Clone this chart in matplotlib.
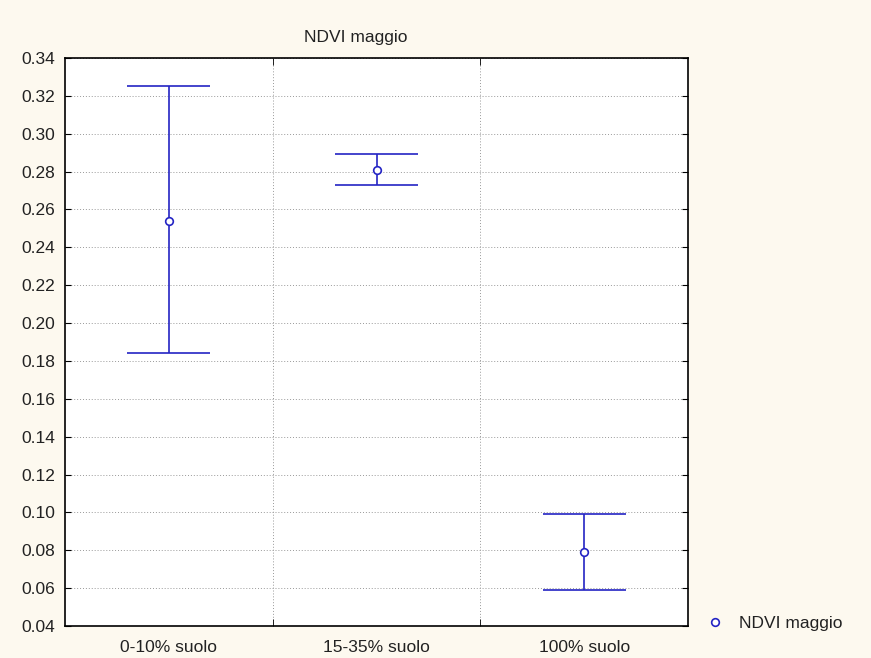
import numpy as np
import matplotlib.pyplot as plt

categories = ["0-10% suolo", "15-35% suolo", "100% suolo"]
means = [0.254, 0.281, 0.079]
upper = [0.325, 0.289, 0.099]
lower = [0.184, 0.273, 0.059]
series_name = "NDVI maggio"

blue = "#2424c4"
plt.rcParams["font.family"] = ["Liberation Sans", "DejaVu Sans"]

fig = plt.figure(figsize=(8.71, 6.58), dpi=100, facecolor="#fdf9ef")
ax = fig.add_axes([0.0746, 0.0486, 0.7155, 0.8634])
ax.set_facecolor("white")

x = np.arange(len(categories))
ax.vlines(x, lower, upper, color=blue, linewidth=1.2, zorder=3)
ax.hlines(upper, x - 0.2, x + 0.2, color=blue, linewidth=1.2, zorder=3)
ax.hlines(lower, x - 0.2, x + 0.2, color=blue, linewidth=1.2, zorder=3)
ax.plot(x, means, "o", color=blue, markerfacecolor="white", markersize=5.5,
        markeredgewidth=1.2, linestyle="none", label=series_name, zorder=4)

yt = np.arange(0.04, 0.3401, 0.02)
ax.set_xlim(-0.5, 2.5)
ax.set_ylim(0.04, 0.34)
ax.set_yticks(yt)
ax.set_yticklabels([f"{v:.2f}" for v in yt])
ax.set_xticks(x)
ax.set_xticklabels(categories)
ax.set_xticks([0.5, 1.5], minor=True)
ax.tick_params(axis="x", which="major", length=0, pad=10, labelsize=12.5, labelcolor="#222222")
ax.tick_params(axis="x", which="minor", direction="in", length=5, top=True, bottom=True)
ax.tick_params(axis="y", direction="in", length=4, left=True, right=True, labelsize=12.5,
               pad=7, labelcolor="#222222")
ax.grid(axis="y", which="major", color="#999999", linestyle=(0, (1, 2)), linewidth=0.7)
ax.grid(axis="x", which="minor", color="#999999", linestyle=(0, (1, 2)), linewidth=0.7)
for s in ax.spines.values():
    s.set_color("black")
    s.set_linewidth(1.2)

ax.text(0.466, 1.022, series_name, transform=ax.transAxes, ha="center", va="bottom",
        fontsize=12.5, color="#222222")
ax.legend(loc="lower left", bbox_to_anchor=(0.99, -0.037), frameon=False, fontsize=12.5,
          handletextpad=0.4, labelcolor="#222222")

plt.savefig("out.png", dpi=100, facecolor=fig.get_facecolor())
